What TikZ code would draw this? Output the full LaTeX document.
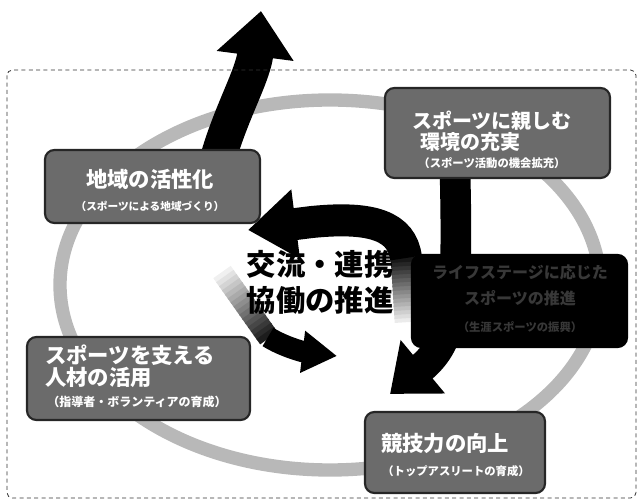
\documentclass[tikz,border=0pt]{standalone}
\usepackage{fontspec}
\newfontfamily\jp{Noto Sans CJK JP}
\usetikzlibrary{arrows.meta,calc}
\definecolor{ringc}{gray}{0.72}
\definecolor{boxc}{gray}{0.42}
\tikzset{
  box/.style={draw=black!85, line width=1.6pt, fill=boxc, rounded corners=7pt, inner sep=0pt},
  darkbox/.style={draw=black, line width=1.6pt, fill=black, rounded corners=7pt, inner sep=0pt},
  boxtxt/.style={text=white, font=\jp\bfseries, inner sep=0pt, align=center},
  frame/.style={draw=black!80, line width=0.6pt, dash pattern=on 3pt off 2.5pt, rounded corners=4pt}
}
\begin{document}
\begin{tikzpicture}[x=0.75pt,y=-0.75pt]
\useasboundingbox (0,0) rectangle (640,502);
% ring
\draw[ringc, line width=10pt] (330,285) ellipse [x radius=202.5pt, y radius=138.75pt];
% named coordinates
\coordinate (upS) at (213,178);
\coordinate (upE) at (261,11);
\coordinate (rS) at (455,170);
\coordinate (rE) at (390,394);
\coordinate (cuT) at (410,322);
\coordinate (cuS) at (406,258);
\coordinate (cuE) at (248,230);
\coordinate (clT) at (222,272);
\coordinate (clS) at (268,337);
\coordinate (clE) at (337,356);
% big upward arrow
\draw[line width=27pt, -{Triangle[width=56pt,length=34pt]}] (upS) .. controls (226,120) and (252,80) .. (upE);
% big right arrow going down
\draw[line width=23pt, -{Triangle[width=50pt,length=32pt]}] (rS) .. controls (458,300) and (455,340) .. (rE);
% central upper arrow (faded tail)
\foreach \i in {0,...,15}{
  \pgfmathsetmacro{\sh}{8+\i*5.5}
  \pgfmathsetmacro{\a}{\i/16}
  \pgfmathsetmacro{\b}{(\i+1.3)/16}
  \draw[black!\sh, line width=23pt] ($(cuT)!\a!(cuS)$) -- ($(cuT)!\b!(cuS)$);
}
\draw[line width=24pt, -{Triangle[width=50pt,length=36pt]}] (cuS) .. controls (402,226) and (372,216) .. (312,222) -- (cuE);
% central lower arrow (faded tail)
\foreach \i in {0,...,15}{
  \pgfmathsetmacro{\sh}{6+\i*5.5}
  \pgfmathsetmacro{\a}{\i/16}
  \pgfmathsetmacro{\b}{(\i+1.3)/16}
  \draw[black!\sh, line width=16pt] ($(clT)!\a!(clS)$) -- ($(clT)!\b!(clS)$);
}
\draw[line width=16pt, -{Triangle[width=30pt,length=26pt]}] (clS) .. controls (284,347) and (304,352) .. (clE);
% boxes
\node[box, minimum width=168.75pt, minimum height=67.5pt] (boxA) at (497.5,133) {};
\node[box, minimum width=161.25pt, minimum height=54.75pt] (boxB) at (152.5,186.5) {};
\node[darkbox, minimum width=161.25pt, minimum height=69pt] (boxC) at (519.5,301) {};
\node[box, minimum width=167.25pt, minimum height=62.25pt] (boxD) at (138.5,378.5) {};
\node[box, minimum width=135pt, minimum height=60.75pt] (boxE) at (455,452.5) {};
% box texts
\node[boxtxt, font=\jp\bfseries\fontsize{15}{16}\selectfont] (tA1) at (492,121) {スポーツに親しむ};
\node[boxtxt, font=\jp\bfseries\fontsize{15}{16}\selectfont] (tA2) at (470,142) {環境の充実};
\node[boxtxt, font=\jp\bfseries\fontsize{8.5}{10}\selectfont] (tA3) at (492,163) {（スポーツ活動の機会拡充）};
\node[boxtxt, font=\jp\bfseries\fontsize{16}{17}\selectfont] (tB1) at (150,179) {地域の活性化};
\node[boxtxt, font=\jp\bfseries\fontsize{8}{10}\selectfont] (tB2) at (150,206) {（スポーツによる地域づくり）};
\node[text=black!78, font=\jp\bfseries\fontsize{12}{13}\selectfont, inner sep=0pt] (tC1) at (520,272) {ライフステージに応じた};
\node[text=black!78, font=\jp\bfseries\fontsize{12}{13}\selectfont, inner sep=0pt] (tC2) at (520,298) {スポーツの推進};
\node[text=black!78, font=\jp\bfseries\fontsize{8.5}{10}\selectfont, inner sep=0pt] (tC3) at (520,327) {（生涯スポーツの振興）};
\node[boxtxt, font=\jp\bfseries\fontsize{16}{17}\selectfont, anchor=west] (tD1) at (45,355) {スポーツを支える};
\node[boxtxt, font=\jp\bfseries\fontsize{16}{17}\selectfont, anchor=west] (tD2) at (45,377) {人材の活用};
\node[boxtxt, font=\jp\bfseries\fontsize{9}{10}\selectfont] (tD3) at (137,402) {（指導者・ボランティアの育成）};
\node[boxtxt, font=\jp\bfseries\fontsize{16}{17}\selectfont] (tE1) at (445,443) {競技力の向上};
\node[boxtxt, font=\jp\bfseries\fontsize{8.5}{10}\selectfont] (tE2) at (456,471) {（トップアスリートの育成）};
% center text
\node[font=\jp\bfseries\fontsize{22}{27}\selectfont, align=center, inner sep=0pt] (center) at (320,282) {交流・連携\\協働の推進};
% frame
\draw[frame] (7,70) rectangle (636,498);
\end{tikzpicture}
\end{document}
